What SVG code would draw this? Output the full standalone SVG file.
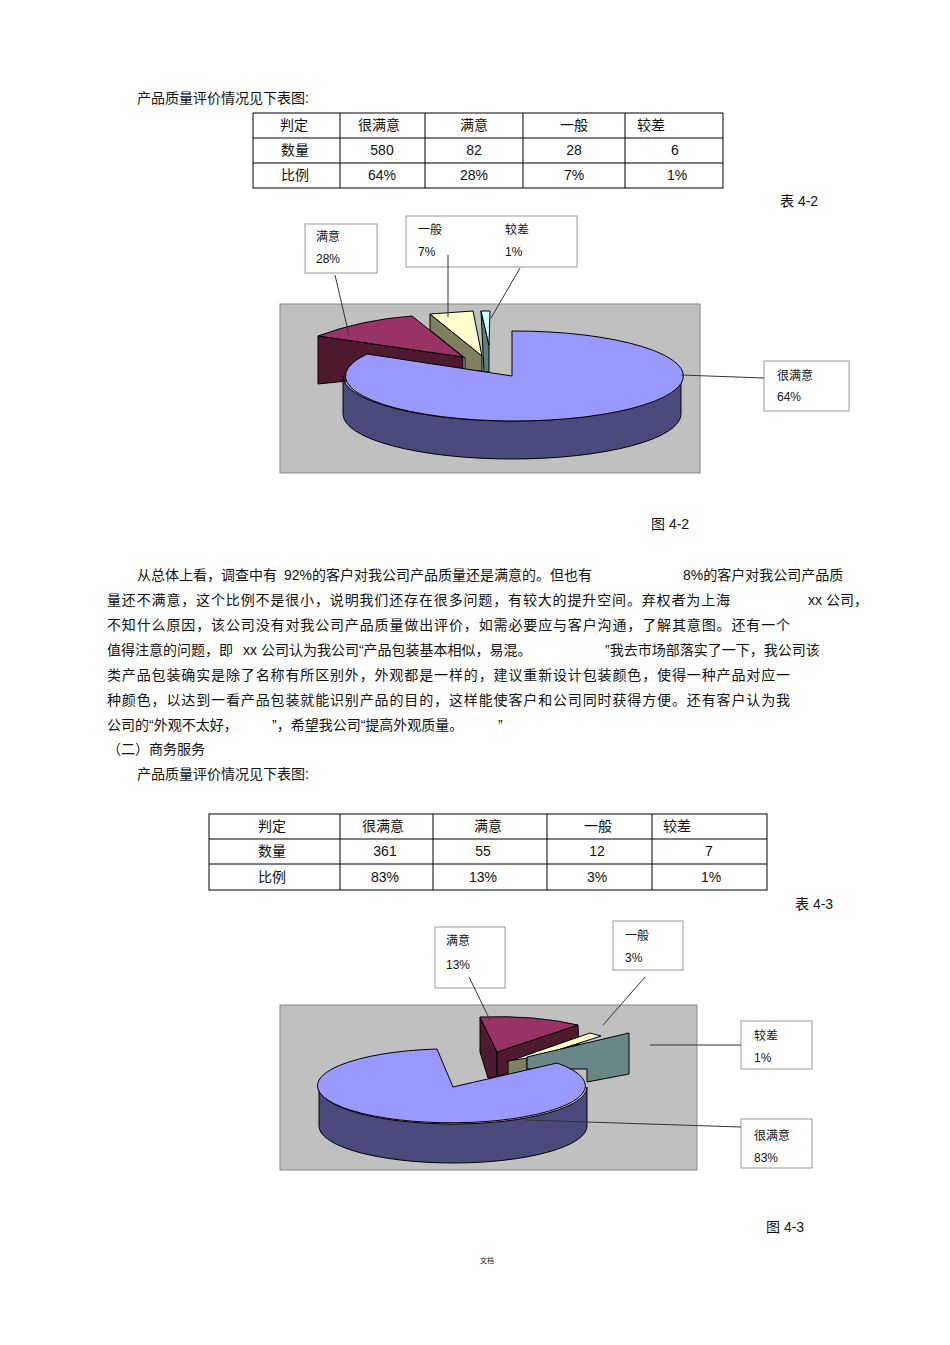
<svg xmlns="http://www.w3.org/2000/svg" width="950" height="1345" viewBox="0 0 950 1345">
<style>
text{font-family:"Liberation Sans","Noto Sans CJK SC",sans-serif;font-size:14px;fill:#111}
.s{font-size:12px}
.b{fill:#fff;stroke:#999;stroke-width:1}
.g{fill:#c0c0c0;stroke:#888;stroke-width:1}
.t{fill:none;stroke:#000;stroke-width:1}
.e{stroke:#000;stroke-width:1;stroke-linejoin:round}
.l{stroke:#333;stroke-width:1;fill:none}
</style>
<rect width="950" height="1345" fill="#fff"/>
<text x="137" y="103">产品质量评价情况见下表图:</text>
<g id="table1">
<rect class="t" x="253" y="113" width="470" height="75"/>
<path class="t" d="M253 138H723M253 163H723M340 113V188M425 113V188M523 113V188M625 113V188"/>
<text x="280" y="130">判定</text><text x="358" y="130">很满意</text><text x="460" y="130">满意</text><text x="560" y="130">一般</text><text x="637" y="130">较差</text>
<text x="281" y="155">数量</text><text x="382" y="155" text-anchor="middle">580</text><text x="474" y="155" text-anchor="middle">82</text><text x="574" y="155" text-anchor="middle">28</text><text x="675" y="155" text-anchor="middle">6</text>
<text x="281" y="180">比例</text><text x="382" y="180" text-anchor="middle">64%</text><text x="474" y="180" text-anchor="middle">28%</text><text x="574" y="180" text-anchor="middle">7%</text><text x="677" y="180" text-anchor="middle">1%</text>
</g>
<text x="780" y="206">表 4-2</text>
<g id="chart1">
<rect class="g" x="280" y="304" width="420" height="169"/>
<path class="e" fill="#4f1a30" d="M318 336L463 357L463 369L318 384Z"/>
<path class="e" fill="#993366" d="M318 336Q360 320 412 316L463 357Z"/>
<path class="e" fill="#808060" d="M430 314L482 356L482 371L465 370L465 358L430 330Z"/>
<path class="e" fill="#ffffcc" d="M430 314L473 311L482 356Z"/>
<path class="e" fill="#5f8080" d="M481 311L489 345L489 372L484 372Z"/>
<path class="e" fill="#ccffff" d="M481 311L490 311L489 345Z"/>
<path class="e" fill="#4a4a7c" d="M343 376A169 45 0 0 0 681 376L681 414A169 45 0 0 1 343 414Z"/>
<path class="e" fill="#9999ff" d="M512 376L512 331A169 45 0 1 1 367 354Z"/>
<rect class="b" x="305" y="224" width="72" height="49"/>
<text class="s" x="316" y="241">满意</text><text class="s" x="316" y="263">28%</text>
<rect class="b" x="406" y="216" width="171" height="51"/>
<text class="s" x="418" y="234">一般</text><text class="s" x="418" y="256">7%</text>
<text class="s" x="505" y="234">较差</text><text class="s" x="505" y="256">1%</text>
<rect class="b" x="764" y="361" width="85" height="50"/>
<text class="s" x="777" y="380">很满意</text><text class="s" x="777" y="401">64%</text>
</g>
<g id="connectors1">
<path class="l" d="M335 275L349 335M448 255L448 317M520 268L491 318M681 375L764 378"/>
</g>
<text x="651" y="529">图 4-2</text>
<text x="137" y="580">从总体上看，调查中有</text>
<text x="284" y="580">92%的客户对我公司产品质量还是满意的。但也有</text>
<text x="683" y="580">8%的客户对我公司产品质</text>
<text x="107" y="605" textLength="623" lengthAdjust="spacing">量还不满意，这个比例不是很小，说明我们还存在很多问题，有较大的提升空间。弃权者为上海</text>
<text x="808" y="605">xx 公司，</text>
<text x="107" y="630" textLength="683" lengthAdjust="spacing">不知什么原因，该公司没有对我公司产品质量做出评价，如需必要应与客户沟通，了解其意图。还有一个</text>
<text x="107" y="655">值得注意的问题，即</text>
<text x="243" y="655">xx 公司认为我公司“产品包装基本相似，易混。</text>
<text x="605" y="655">”我去市场部落实了一下，我公司该</text>
<text x="107" y="680" textLength="683" lengthAdjust="spacing">类产品包装确实是除了名称有所区别外，外观都是一样的，建议重新设计包装颜色，使得一种产品对应一</text>
<text x="107" y="705" textLength="683" lengthAdjust="spacing">种颜色，以达到一看产品包装就能识别产品的目的，这样能使客户和公司同时获得方便。还有客户认为我</text>
<text x="107" y="730">公司的“外观不太好，</text>
<text x="272" y="730">”，希望我公司“提高外观质量。</text>
<text x="498" y="730">”</text>
<text x="107" y="754">（二）商务服务</text>
<text x="137" y="779">产品质量评价情况见下表图:</text>
<g id="table2">
<rect class="t" x="209" y="814" width="558" height="76"/>
<path class="t" d="M209 839H767M209 864H767M340 814V890M433 814V890M547 814V890M652 814V890"/>
<text x="258" y="831">判定</text><text x="362" y="831">很满意</text><text x="474" y="831">满意</text><text x="584" y="831">一般</text><text x="663" y="831">较差</text>
<text x="258" y="856">数量</text><text x="385" y="856" text-anchor="middle">361</text><text x="483" y="856" text-anchor="middle">55</text><text x="597" y="856" text-anchor="middle">12</text><text x="709" y="856" text-anchor="middle">7</text>
<text x="258" y="882">比例</text><text x="385" y="882" text-anchor="middle">83%</text><text x="483" y="882" text-anchor="middle">13%</text><text x="597" y="882" text-anchor="middle">3%</text><text x="711" y="882" text-anchor="middle">1%</text>
</g>
<text x="795" y="909">表 4-3</text>
<g id="chart2">
<rect class="g" x="280" y="1005" width="417" height="165"/>
<path class="e" fill="#4f1a30" d="M480 1017L497 1052L497 1077L488 1078L480 1052Z"/>
<path class="e" fill="#4f1a30" d="M497 1052L578 1025L579 1046L497 1077Z"/>
<path class="e" fill="#993366" d="M480 1017Q535 1015 578 1025L497 1052Z"/>
<path class="e" fill="#ffffcc" d="M507 1062L590 1033L601 1036L527 1060Z"/>
<path class="e" fill="#808060" d="M508 1061L527 1058L527 1074L508 1076Z"/>
<path class="e" fill="#6a8686" d="M527 1057L629 1033L629 1074L587 1082L587 1069L527 1069Z"/>
<path class="e" fill="#4a4a7c" d="M319 1087A134 37 0 0 0 587 1087L587 1126A134 37 0 0 1 319 1126Z"/>
<path class="e" fill="#9999ff" d="M453 1087L557 1063A134 37 0 1 1 437 1049Z"/>
<rect class="b" x="435" y="927" width="70" height="61"/>
<text class="s" x="446" y="945">满意</text><text class="s" x="446" y="969">13%</text>
<rect class="b" x="613" y="921" width="70" height="49"/>
<text class="s" x="625" y="940">一般</text><text class="s" x="625" y="962">3%</text>
<rect class="b" x="741" y="1021" width="71" height="48"/>
<text class="s" x="754" y="1040">较差</text><text class="s" x="754" y="1062">1%</text>
<rect class="b" x="741" y="1119" width="71" height="49"/>
<text class="s" x="754" y="1140">很满意</text><text class="s" x="754" y="1162">83%</text>
</g>
<g id="connectors2">
<path class="l" d="M469 977L490 1020M645 977L603 1025M650 1045L741 1045M525 1120L741 1127"/>
</g>
<text x="766" y="1232">图 4-3</text>
<text x="480" y="1263" style="font-size:7px">文档</text>
</svg>
